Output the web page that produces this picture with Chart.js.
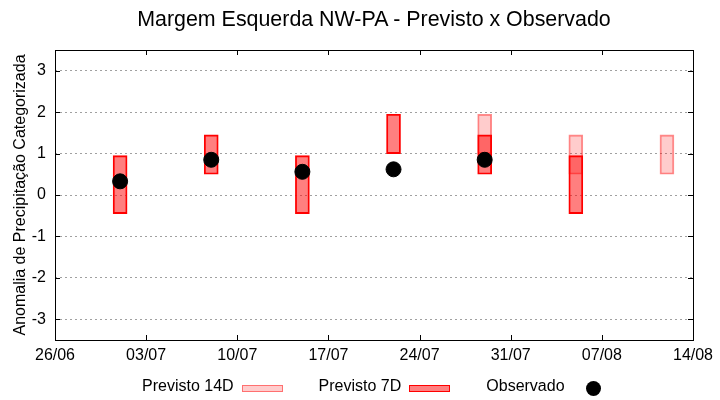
<!DOCTYPE html>
<html>
<head>
<meta charset="utf-8">
<script src="https://cdn.jsdelivr.net/npm/chart.js@4.4.1/dist/chart.umd.min.js"></script>
<style>
  body { margin: 0; background: #fff; }
  #caixa { position: relative; width: 720px; height: 400px; }
  #titulo { position: absolute; left: 55px; width: 638px; top: 7px; text-align: center;
            font: 21.4px "Liberation Sans", Arial, sans-serif; color: #000; }
  #legenda { position: absolute; left: 142px; top: 375px; display: flex; align-items: center;
             font: 16px "Liberation Sans", Arial, sans-serif; color: #000; }
  .item { display: flex; align-items: center; margin-right: 36px; }
  .amostra { width: 41px; margin-left: 8px; display: flex; justify-content: center; align-items: center; }
</style>
</head>
<body>
<div id="caixa">
  <canvas id="grafico" width="720" height="400"></canvas>
  <div id="titulo">Margem Esquerda NW-PA - Previsto x Observado</div>
  <div id="legenda"></div>
</div>
<script>
// datas das previsoes (semana) e valores
const datas7D = ['01/07', '08/07', '15/07', '22/07', '29/07', '05/08'];
const prev7DMin = [-0.45, 0.5, -0.45, 1.0, 0.5, -0.45];
const prev7DMax = [0.95, 1.45, 0.95, 1.95, 1.45, 0.95];

const datas14D = ['29/07', '05/08', '12/08'];
const prev14DMin = [1.0, 0.5, 0.5];
const prev14DMax = [1.95, 1.45, 1.45];

const datasObs = ['01/07', '08/07', '15/07', '22/07', '29/07'];
const observado = [0.33, 0.85, 0.56, 0.62, 0.85];

const ticksX = ['26/06', '03/07', '10/07', '17/07', '24/07', '31/07', '07/08', '14/08'];
const ticksY = [-3, -2, -1, 0, 1, 2, 3];

// converte 'dd/mm' em numero de dias desde 26/06
const base = new Date(2024, 5, 26);
const diaIndice = (txt) => {
    const [d, m] = txt.split('/').map(Number);
    return Math.round((new Date(2024, m - 1, d) - base) / 86400000);
};
const rotuloDia = (v) => {
    const dt = new Date(2024, 5, 26 + v);
    return String(dt.getDate()).padStart(2, '0') + '/' + String(dt.getMonth() + 1).padStart(2, '0');
};

const fonte = { family: '"Liberation Sans", Arial, sans-serif', size: 16 };

// moldura e marcas de escala para dentro (estilo gnuplot)
const moldura = {
    id: 'moldura',
    afterDatasetsDraw(chart) {
        const { ctx, chartArea: a, scales } = chart;
        ctx.save();
        ctx.strokeStyle = '#000';
        ctx.lineWidth = 1;
        ctx.beginPath();
        scales.y.ticks.forEach(t => {
            const y = Math.round(scales.y.getPixelForValue(t.value)) + 0.5;
            ctx.moveTo(a.left, y); ctx.lineTo(a.left + 5, y);
            ctx.moveTo(a.right, y); ctx.lineTo(a.right - 5, y);
        });
        scales.x.ticks.forEach(t => {
            const x = Math.round(scales.x.getPixelForValue(t.value)) + 0.5;
            ctx.moveTo(x, a.bottom); ctx.lineTo(x, a.bottom - 5);
            ctx.moveTo(x, a.top); ctx.lineTo(x, a.top + 5);
        });
        ctx.stroke();
        ctx.strokeRect(Math.round(a.left) + 0.5, Math.round(a.top) + 0.5,
                       Math.round(a.right - a.left), Math.round(a.bottom - a.top));
        ctx.restore();
    }
};

const serieObs = {
    type: 'scatter',
    label: 'Observado',
    data: datasObs.map((d, i) => ({ x: diaIndice(d), y: observado[i] })),
    backgroundColor: '#000',
    borderColor: '#000',
    pointRadius: 7.5,
    order: 0
};
const serie14D = {
    label: 'Previsto 14D',
    data: datas14D.map((d, i) => ({ x: diaIndice(d), y: [prev14DMin[i], prev14DMax[i]] })),
    backgroundColor: 'rgba(255, 0, 0, 0.2)',
    borderColor: 'rgba(255, 0, 0, 0.45)',
    borderWidth: 1.2,
    borderSkipped: false,
    barThickness: 14,
    grouped: false,
    order: 1
};
const serie7D = {
    label: 'Previsto 7D',
    data: datas7D.map((d, i) => ({ x: diaIndice(d), y: [prev7DMin[i], prev7DMax[i]] })),
    backgroundColor: 'rgba(255, 0, 0, 0.5)',
    borderColor: 'rgb(255, 0, 0)',
    borderWidth: 1.2,
    borderSkipped: false,
    barThickness: 14,
    grouped: false,
    order: 2
};

const config = {
    type: 'bar',
    data: { datasets: [serieObs, serie14D, serie7D] },
    options: {
        responsive: false,
        animation: false,
        layout: { padding: { left: 0, right: 27, top: 50, bottom: 0 } },
        plugins: {
            legend: { display: false },
            tooltip: { enabled: false }
        },
        scales: {
            x: {
                type: 'linear',
                min: diaIndice(ticksX[0]),
                max: diaIndice(ticksX[ticksX.length - 1]),
                offset: false,
                afterBuildTicks: (s) => { s.ticks = ticksX.map(t => ({ value: diaIndice(t) })); },
                afterFit: (s) => { s.height = 60; },
                grid: { display: false, drawTicks: false },
                border: { display: false },
                ticks: {
                    color: '#000',
                    font: fonte,
                    padding: 6,
                    maxRotation: 0,
                    autoSkip: false,
                    callback: (v) => rotuloDia(v)
                }
            },
            y: {
                min: -3.5,
                max: 3.5,
                afterBuildTicks: (s) => { s.ticks = ticksY.map(v => ({ value: v })); },
                afterFit: (s) => { s.width = 55; },
                grid: { color: '#a0a0a0', lineWidth: 1, drawTicks: false },
                border: { display: false, dash: [2, 3] },
                ticks: { color: '#000', font: fonte, padding: 9 },
                title: {
                    display: true,
                    text: 'Anomalia de Precipitação Categorizada',
                    color: '#000',
                    font: fonte,
                    padding: { top: 11, bottom: 0 }
                }
            }
        }
    },
    plugins: [moldura]
};

const grafico = new Chart(document.getElementById('grafico'), config);

// legenda com o texto antes da amostra, como no original
const legenda = document.getElementById('legenda');
[serie14D, serie7D, serieObs].forEach(ds => {
    const item = document.createElement('div');
    item.className = 'item';
    const txt = document.createElement('span');
    txt.textContent = ds.label;
    const amostra = document.createElement('span');
    amostra.className = 'amostra';
    const marca = document.createElement('span');
    if (ds.type === 'scatter') {
        marca.style.cssText = 'width:15px;height:15px;border-radius:50%;background:#000;margin-top:6px';
    } else {
        marca.style.cssText = 'width:39px;height:5px;background:' + ds.backgroundColor +
            ';border:1px solid ' + ds.borderColor + ';margin-top:6px';
    }
    amostra.appendChild(marca);
    item.appendChild(txt);
    item.appendChild(amostra);
    legenda.appendChild(item);
});
</script>
</body>
</html>
